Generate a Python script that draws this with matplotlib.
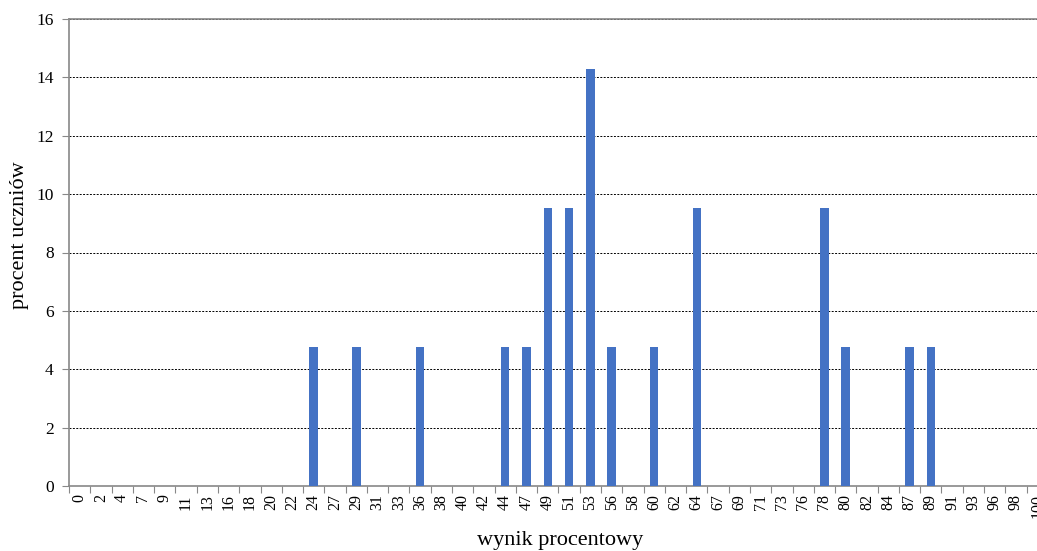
import matplotlib
matplotlib.use("Agg")
import matplotlib.pyplot as plt
import numpy as np

categories = ["0","2","4","7","9","11","13","16","18","20","22","24","27","29","31","33","36","38","40","42",
              "44","47","49","51","53","56","58","60","62","64","67","69","71","73","76","78","80","82","84","87",
              "89","91","93","96","98","100"]
values = {"24":4.76,"29":4.76,"36":4.76,"44":4.76,"47":4.76,"49":9.52,"51":9.52,"53":14.29,
          "56":4.76,"60":4.76,"64":9.52,"78":9.52,"80":4.76,"87":4.76,"89":4.76}
heights = [values.get(c, 0) for c in categories]

plt.rcParams['font.family'] = ['Liberation Serif', 'DejaVu Serif']

W, H = 1037, 551
fig = plt.figure(figsize=(W/100, H/100), dpi=100)
n = len(categories)
step = 21.28
left, bottom, top = 69, 486, 19
ax = fig.add_axes([left/W, 1-bottom/H, n*step/W, (bottom-top)/H])

x = np.arange(n)
ax.bar(x, heights, width=0.4, color='#4472C4', zorder=3)
ax.set_xlim(-0.5, n-0.5)
ax.set_ylim(0, 16)
ax.set_yticks(range(0, 17, 2))
ax.set_xticks(x)
ax.set_xticklabels(categories, rotation=90, fontsize=11.5)
ax.set_xticks(np.arange(-0.5, n, 1), minor=True)
ax.tick_params(axis='x', which='major', length=0, pad=6)
ax.tick_params(axis='x', which='minor', length=5, color='#888888', width=0.8)
ax.tick_params(axis='y', length=5, color='#888888', width=0.8, labelsize=12.5, pad=6)
ax.yaxis.grid(True, linestyle=(0, (2, 1.5)), color='black', linewidth=0.7, zorder=0)
for s in ['top', 'left', 'bottom']:
    ax.spines[s].set_color('#888888')
    ax.spines[s].set_linewidth(1.2)
ax.spines['right'].set_visible(False)
fig.text(560/W, 1-540/H, 'wynik procentowy', fontsize=16, ha='center', va='center')
fig.text(20/W, 1-235/H, 'procent uczniów', fontsize=16, ha='center', va='center', rotation=90)
fig.savefig('out.png', dpi=100)
